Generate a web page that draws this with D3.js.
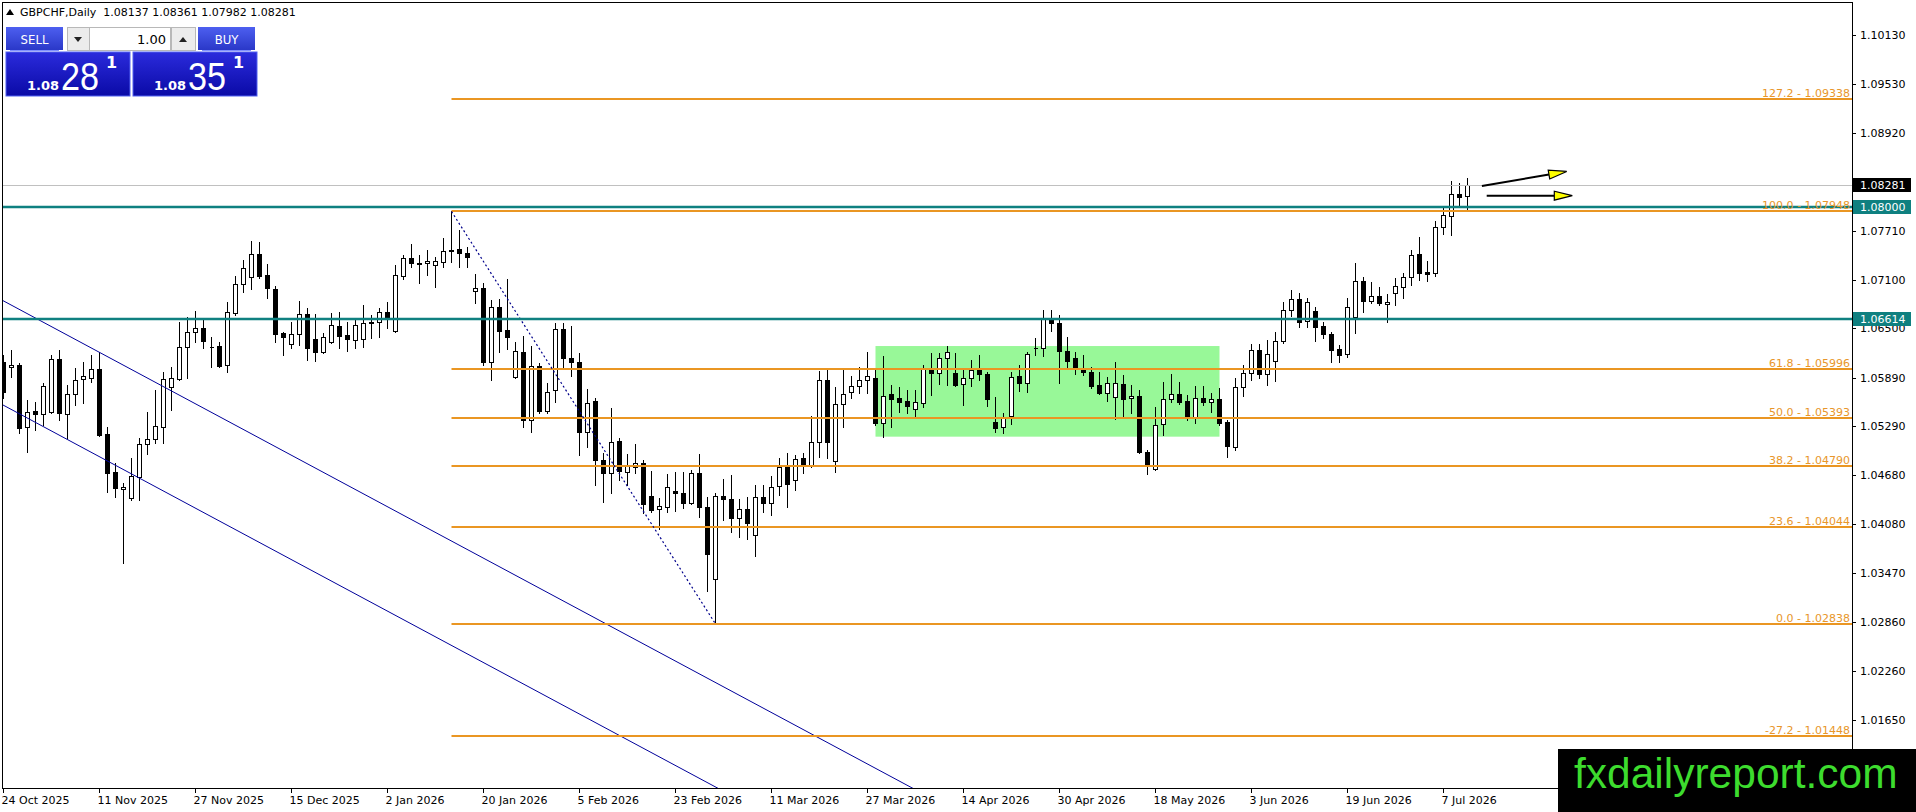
<!DOCTYPE html>
<html>
<head>
<meta charset="utf-8">
<script src="https://cdn.jsdelivr.net/npm/d3@7/dist/d3.min.js"></script>
<style>
  html, body { margin: 0; padding: 0; background: #fff; overflow: hidden; }
  svg { display: block; }
  text { font-family: "DejaVu Sans", sans-serif; }
</style>
</head>
<body>
<div id="container"></div>
<script>
/* CONSTANTS AND GLOBALS */
const width = 1916, height = 812;
const plot = { left: 2, top: 2, right: 1852, bottom: 788 };

/* DATA */
const symbol = "GBPCHF,Daily";
const opens = [1.06083,1.06021,1.06046,1.05278,1.05476,1.05439,1.05464,1.06120,1.05439,1.05687,1.05872,1.05885,1.05996,1.05191,1.04720,1.04509,1.04398,1.04658,1.05067,1.05129,
1.05278,1.05773,1.05872,1.06269,1.06455,1.06504,1.06269,1.06281,1.06046,1.06690,1.07050,1.07136,1.07421,1.07161,1.06988,1.06443,1.06306,1.06430,1.06678,1.06368,
1.06207,1.06331,1.06529,1.06418,1.06356,1.06368,1.06566,1.06579,1.06703,1.06467,1.07149,1.07372,1.07310,1.07310,1.07285,1.07322,1.07471,1.07483,1.07434,1.06963,
1.07000,1.06083,1.06765,1.06480,1.05897,1.06207,1.05364,1.06034,1.05476,1.05736,1.06492,1.06133,1.06083,1.05216,1.05600,1.04869,1.04708,1.05104,1.04720,1.04782,
1.04832,1.04423,1.04262,1.04286,1.04485,1.04460,1.04336,1.04708,1.04286,1.03394,1.04423,1.04385,1.04150,1.04262,1.03939,1.04410,1.04336,1.04547,1.04782,1.04621,
1.04894,1.04794,1.05092,1.05860,1.04856,1.05563,1.05711,1.05786,1.05860,1.05885,1.05327,1.05687,1.05637,1.05600,1.05501,1.05575,1.06009,1.05947,1.06133,1.05947,
1.05811,1.05885,1.05984,1.05934,1.05340,1.05278,1.05414,1.05910,1.05823,1.06257,1.06257,1.06628,1.06566,1.06219,1.06133,1.06009,1.05959,1.05798,1.05699,1.05649,
1.05811,1.05637,1.05662,1.04968,1.04757,1.05315,1.05625,1.05687,1.05600,1.05402,1.05637,1.05587,1.05625,1.05340,1.05030,1.05773,1.05947,1.06232,1.05934,1.06096,
1.06343,1.06728,1.06864,1.06591,1.06715,1.06529,1.06430,1.06244,1.06182,1.06641,1.07087,1.06839,1.06901,1.06802,1.06938,1.07013,1.07136,1.07421,1.07198,1.07186,
1.07756,1.07892,1.08165,1.08137];
const highs = [1.06170,1.06232,1.06071,1.05612,1.05587,1.05823,1.06170,1.06232,1.05798,1.06009,1.06083,1.06170,1.06207,1.05278,1.04832,1.04584,1.04894,1.05141,1.05464,1.05736,
1.05959,1.06021,1.06579,1.06641,1.06715,1.06628,1.06393,1.06331,1.06827,1.07149,1.07347,1.07583,1.07570,1.07298,1.07025,1.06455,1.06579,1.06839,1.06752,1.06678,
1.06443,1.06690,1.06703,1.06579,1.06604,1.06789,1.06666,1.06752,1.06827,1.07285,1.07409,1.07545,1.07409,1.07471,1.07384,1.07620,1.07948,1.07719,1.07508,1.07174,
1.07062,1.06851,1.06864,1.07112,1.06331,1.06405,1.06281,1.06071,1.05823,1.06566,1.06566,1.06529,1.06195,1.05749,1.05637,1.04955,1.05513,1.05141,1.04943,1.05067,
1.04869,1.04732,1.04398,1.04695,1.04720,1.04720,1.04745,1.04943,1.04410,1.04460,1.04633,1.04683,1.04385,1.04410,1.04559,1.04559,1.04670,1.04894,1.04955,1.04931,
1.04955,1.05414,1.05972,1.05984,1.05773,1.05984,1.05910,1.06021,1.06207,1.06009,1.06157,1.05798,1.05773,1.05736,1.05736,1.06046,1.06195,1.06195,1.06281,1.06195,
1.05996,1.06108,1.06170,1.05959,1.05649,1.05451,1.05959,1.06046,1.06207,1.06381,1.06728,1.06728,1.06666,1.06393,1.06207,1.06170,1.06021,1.05959,1.05897,1.06083,
1.05922,1.05798,1.05736,1.04993,1.05526,1.05835,1.05934,1.05835,1.05674,1.05786,1.05786,1.05699,1.05761,1.05364,1.05885,1.06046,1.06306,1.06306,1.06356,1.06455,
1.06827,1.06975,1.06938,1.06876,1.06765,1.06579,1.06455,1.06294,1.06876,1.07310,1.07136,1.07075,1.07013,1.06926,1.07124,1.07186,1.07471,1.07632,1.07335,1.07830,
1.07992,1.08326,1.08301,1.08361];
const lows = [1.05637,1.05897,1.05203,1.04968,1.05240,1.05302,1.05451,1.05364,1.05141,1.05550,1.05575,1.05835,1.05166,1.04472,1.04410,1.03592,1.04373,1.04373,1.04943,1.05079,
1.05079,1.05488,1.05860,1.05885,1.06331,1.06257,1.06021,1.06021,1.05959,1.06666,1.06951,1.06988,1.07124,1.06876,1.06331,1.06170,1.06257,1.06294,1.06108,1.06096,
1.06195,1.06319,1.06257,1.06219,1.06257,1.06269,1.06381,1.06393,1.06504,1.06455,1.07112,1.07260,1.07062,1.07161,1.07013,1.07260,1.07322,1.07260,1.07260,1.06814,
1.06046,1.05860,1.06207,1.06244,1.05885,1.05278,1.05216,1.05451,1.05451,1.05587,1.05996,1.05910,1.04931,1.05030,1.04559,1.04348,1.04460,1.04621,1.04559,1.04708,
1.04212,1.04224,1.04014,1.04224,1.04237,1.04274,1.04323,1.04162,1.03245,1.02838,1.04125,1.03977,1.03915,1.03890,1.03679,1.04224,1.04187,1.04435,1.04286,1.04497,
1.04708,1.04782,1.04906,1.04894,1.04720,1.05278,1.05637,1.05699,1.05699,1.05302,1.05154,1.05278,1.05464,1.05451,1.05402,1.05526,1.05674,1.05811,1.05798,1.05786,
1.05550,1.05786,1.05860,1.05538,1.05216,1.05203,1.05315,1.05724,1.05711,1.06170,1.06157,1.06467,1.05823,1.06009,1.05934,1.05922,1.05761,1.05687,1.05600,1.05377,
1.05389,1.05451,1.04955,1.04695,1.04745,1.05179,1.05587,1.05563,1.05364,1.05327,1.05550,1.05464,1.05302,1.04906,1.04993,1.05662,1.05860,1.05885,1.05798,1.05848,
1.06319,1.06653,1.06517,1.06517,1.06343,1.06381,1.06083,1.06083,1.06145,1.06443,1.06703,1.06814,1.06789,1.06579,1.06789,1.06876,1.07037,1.07099,1.07087,1.07149,
1.07669,1.07657,1.08004,1.07982];
const closes = [1.05711,1.06046,1.05265,1.05464,1.05439,1.05786,1.06120,1.05451,1.05687,1.05860,1.05910,1.05996,1.05179,1.04708,1.04522,1.04534,1.04670,1.05067,1.05129,1.05290,
1.05872,1.05885,1.06269,1.06455,1.06504,1.06343,1.06266,1.06034,1.06703,1.07050,1.07248,1.07421,1.07149,1.07000,1.06430,1.06393,1.06430,1.06678,1.06257,1.06207,
1.06393,1.06542,1.06405,1.06368,1.06542,1.06566,1.06579,1.06703,1.06616,1.07161,1.07372,1.07310,1.07298,1.07335,1.07335,1.07459,1.07459,1.07434,1.07384,1.07000,
1.06083,1.06765,1.06467,1.06393,1.06219,1.05364,1.06034,1.05476,1.05711,1.06492,1.06133,1.06083,1.05216,1.05575,1.04869,1.04708,1.05092,1.04732,1.04794,1.04832,
1.04323,1.04249,1.04299,1.04534,1.04460,1.04336,1.04708,1.04286,1.03704,1.04423,1.04385,1.04150,1.04262,1.04088,1.04410,1.04336,1.04534,1.04782,1.04571,1.04881,
1.04794,1.05092,1.05860,1.05092,1.05563,1.05687,1.05786,1.05860,1.05910,1.05327,1.05662,1.05625,1.05587,1.05538,1.05587,1.06009,1.05947,1.06133,1.06207,1.05798,
1.05885,1.05984,1.05934,1.05625,1.05265,1.05402,1.05897,1.05823,1.06182,1.06254,1.06628,1.06566,1.06219,1.06096,1.06009,1.05959,1.05786,1.05699,1.05823,1.05823,
1.05625,1.05662,1.04968,1.04819,1.05302,1.05625,1.05687,1.05587,1.05389,1.05637,1.05587,1.05625,1.05327,1.05042,1.05773,1.05947,1.06232,1.05934,1.06182,1.06343,
1.06728,1.06864,1.06579,1.06827,1.06517,1.06430,1.06232,1.06170,1.06765,1.07087,1.06839,1.06901,1.06814,1.06827,1.07025,1.07136,1.07409,1.07186,1.07174,1.07756,
1.07905,1.08165,1.08128,1.08281];

const dateLabels = ["24 Oct 2025","11 Nov 2025","27 Nov 2025","15 Dec 2025","2 Jan 2026","20 Jan 2026","5 Feb 2026","23 Feb 2026",
  "11 Mar 2026","27 Mar 2026","14 Apr 2026","30 Apr 2026","18 May 2026","3 Jun 2026","19 Jun 2026","7 Jul 2026"];
const dateLabelBars = [0,12,24,36,48,60,72,84,96,108,120,132,144,156,168,180];
const priceTicks = [1.10130,1.09530,1.08920,1.08310,1.07710,1.07100,1.06500,1.05890,1.05290,1.04680,1.04080,1.03470,1.02860,1.02260,1.01650];

const fibLevels = ["127.2","100.0","61.8","50.0","38.2","23.6","0.0","-27.2"];
const fibPrices = [1.09338,1.07948,1.05996,1.05393,1.04790,1.04044,1.02838,1.01448];
const fibHighBar = 56, fibLowBar = 89;

const levelPrices = [1.08000, 1.06614];
const bidPrice = 1.08281;
const quote = { bid: 1.08281, ask: 1.08351, lot: "1.00" };

const channelUpper = [[0, 1.06840], [100, 1.01527]];
const channelLower = [[0, 1.05547], [100, 1.00233]];

const boxBars = [109, 152];
const boxPrices = [1.06281, 1.05158];

const arrowStarts = [[184.8, 1.08264], [185.4, 1.08144]];
const arrowEnds = [[195.4, 1.08444], [196.1, 1.08144]];

/* SCALES */
const x = d3.scaleLinear().domain([0, 230]).range([3.5, 3.5 + 8 * 230]);
const y = d3.scaleLinear().domain([1.05393, 1.10130]).range([417.7, 35.4]);
const px = v => Math.round(v) + 0.5;

const candles = opens.map((o, i) => ({ i, o, h: highs[i], l: lows[i], c: closes[i] }));

const svg = d3.select("#container")
  .append("svg")
  .attr("width", width)
  .attr("height", height)
  .style("background-color", "#fff");

const defs = svg.append("defs");
defs.append("clipPath").attr("id", "plotClip")
  .append("rect")
  .attr("x", plot.left).attr("y", plot.top)
  .attr("width", plot.right - plot.left).attr("height", plot.bottom - plot.top);

const gBlue = defs.append("linearGradient").attr("id", "btnBlue").attr("x1", 0).attr("y1", 0).attr("x2", 0).attr("y2", 1);
gBlue.append("stop").attr("offset", "0%").attr("stop-color", "#4d5ff0");
gBlue.append("stop").attr("offset", "100%").attr("stop-color", "#2a38c8");
const gDeep = defs.append("linearGradient").attr("id", "boxBlue").attr("x1", 0).attr("y1", 0).attr("x2", 0).attr("y2", 1);
gDeep.append("stop").attr("offset", "0%").attr("stop-color", "#2b2bdc");
gDeep.append("stop").attr("offset", "100%").attr("stop-color", "#0a0aa6");

const chart = svg.append("g").attr("clip-path", "url(#plotClip)");

// green range rectangle (background object)
chart.append("rect")
  .attr("x", x(boxBars[0])).attr("y", y(boxPrices[0]))
  .attr("width", x(boxBars[1]) - x(boxBars[0]))
  .attr("height", y(boxPrices[1]) - y(boxPrices[0]))
  .attr("fill", "#98f898");

// CANDLES
const cg = chart.append("g");
cg.selectAll("line.wick")
  .data(candles)
  .join("line")
  .attr("class", "wick")
  .attr("x1", d => x(d.i)).attr("x2", d => x(d.i))
  .attr("y1", d => Math.round(y(d.h))).attr("y2", d => Math.round(y(d.l)) + 1)
  .attr("stroke", "#000").attr("stroke-width", 1)
  .attr("shape-rendering", "crispEdges");

cg.selectAll("path.body")
  .data(candles)
  .join("path")
  .attr("class", "body")
  .attr("d", d => {
    const x0 = x(d.i) - 2, x1 = x(d.i) + 2;
    const t = px(y(Math.max(d.o, d.c))), b = px(y(Math.min(d.o, d.c)));
    return `M${x0},${t}H${x1}V${b}H${x0}Z`;
  })
  .attr("fill", d => d.c >= d.o ? "#fff" : "#000")
  .attr("stroke", "#000").attr("stroke-width", 1)
  .attr("shape-rendering", "crispEdges");

// channel lines
const extend = (pts) => {
  const [[b0, p0], [b1, p1]] = pts;
  const slope = (p1 - p0) / (b1 - b0);
  return [[-2, p0 + slope * (-2 - b0)], [230, p0 + slope * (230 - b0)]];
};
const lineGen = d3.line().x(d => x(d[0])).y(d => y(d[1]));
[channelUpper, channelLower].forEach(ch => {
  chart.append("path").attr("d", lineGen(extend(ch)))
    .attr("fill", "none").attr("stroke", "#00009a").attr("stroke-width", 1);
});

// fib lines
chart.selectAll("line.fib")
  .data(fibPrices)
  .join("line")
  .attr("class", "fib")
  .attr("x1", x(fibHighBar)).attr("x2", plot.right)
  .attr("y1", d => Math.round(y(d))).attr("y2", d => Math.round(y(d)))
  .attr("stroke", "#ea9623").attr("stroke-width", 2);

// dotted fib connector
chart.append("line")
  .attr("x1", x(fibHighBar)).attr("y1", y(fibPrices[1]))
  .attr("x2", x(fibLowBar)).attr("y2", y(fibPrices[6]))
  .attr("stroke", "#00008b").attr("stroke-width", 1.2).attr("stroke-dasharray", "2,2.5");

// bid line
chart.append("line")
  .attr("x1", plot.left).attr("x2", plot.right)
  .attr("y1", px(y(bidPrice))).attr("y2", px(y(bidPrice)))
  .attr("stroke", "#c0c0c0").attr("stroke-width", 1);

// horizontal teal levels
chart.selectAll("line.level")
  .data(levelPrices)
  .join("line")
  .attr("class", "level")
  .attr("x1", plot.left).attr("x2", plot.right)
  .attr("y1", d => Math.round(y(d))).attr("y2", d => Math.round(y(d)))
  .attr("stroke", "#0f8080").attr("stroke-width", 2.5);

// fib labels
svg.selectAll("text.fibLabel")
  .data(fibPrices)
  .join("text")
  .attr("class", "fibLabel")
  .attr("x", plot.right - 2)
  .attr("y", d => Math.round(y(d)) - 2)
  .attr("text-anchor", "end")
  .attr("font-size", 11)
  .attr("fill", "#e8962a")
  .text((d, i) => `${fibLevels[i]} - ${d.toFixed(5)}`);

// arrows
arrowStarts.forEach((s, k) => {
  const e = arrowEnds[k];
  const sx = x(s[0]), sy = y(s[1]), ex = x(e[0]), ey = y(e[1]);
  const ang = Math.atan2(ey - sy, ex - sx);
  const len = 18, hw = 4.5;
  const bx = ex - len * Math.cos(ang), by = ey - len * Math.sin(ang);
  chart.append("line").attr("x1", sx).attr("y1", sy).attr("x2", bx).attr("y2", by)
    .attr("stroke", "#000").attr("stroke-width", 2);
  const pts = [
    [ex, ey],
    [bx + hw * Math.sin(ang), by - hw * Math.cos(ang)],
    [bx - hw * Math.sin(ang), by + hw * Math.cos(ang)]
  ];
  chart.append("polygon").attr("points", pts.map(p => p.join(",")).join(" "))
    .attr("fill", "#ffff00").attr("stroke", "#000").attr("stroke-width", 1.2);
});

// frame
svg.append("rect")
  .attr("x", plot.left + 0.5).attr("y", plot.top + 0.5)
  .attr("width", plot.right - plot.left).attr("height", plot.bottom - plot.top)
  .attr("fill", "none").attr("stroke", "#000").attr("stroke-width", 1)
  .attr("shape-rendering", "crispEdges");

// price axis
const pa = svg.append("g");
pa.selectAll("line.ptick")
  .data(priceTicks)
  .join("line")
  .attr("class", "ptick")
  .attr("x1", plot.right).attr("x2", plot.right + 4)
  .attr("y1", d => px(y(d))).attr("y2", d => px(y(d)))
  .attr("stroke", "#000");
pa.selectAll("text.plabel")
  .data(priceTicks)
  .join("text")
  .attr("class", "plabel")
  .attr("x", plot.right + 8)
  .attr("y", d => y(d) + 4)
  .attr("font-size", 11)
  .attr("fill", "#000")
  .text(d => d.toFixed(5));

// price boxes on the axis
const tagData = [
  { p: levelPrices[0], fill: "#0f8080" },
  { p: levelPrices[1], fill: "#0f8080" },
  { p: bidPrice, fill: "#000" }
];
tagData.forEach(t => {
  const cy = y(t.p);
  pa.append("rect").attr("x", plot.right + 1).attr("y", Math.round(cy) - 7)
    .attr("width", 58).attr("height", 14).attr("fill", t.fill);
  pa.append("text").attr("x", plot.right + 8).attr("y", cy + 4)
    .attr("font-size", 11).attr("fill", "#fff").text(t.p.toFixed(5));
});

// time axis
const ta = svg.append("g");
ta.selectAll("line.ttick")
  .data(dateLabelBars)
  .join("line")
  .attr("class", "ttick")
  .attr("x1", d => x(d)).attr("x2", d => x(d))
  .attr("y1", plot.bottom).attr("y2", plot.bottom + 5)
  .attr("stroke", "#000");
ta.selectAll("text.tlabel")
  .data(dateLabelBars)
  .join("text")
  .attr("class", "tlabel")
  .attr("x", d => x(d) - 2)
  .attr("y", plot.bottom + 16)
  .attr("font-size", 11)
  .attr("fill", "#000")
  .text((d, i) => dateLabels[i]);

// header line
const hdr = svg.append("g");
hdr.append("path").attr("d", "M6,15L10,9L14,15Z").attr("fill", "#000");
hdr.append("text").attr("x", 20).attr("y", 16).attr("font-size", 11).attr("fill", "#000")
  .attr("xml:space", "preserve")
  .text(`${symbol}  ${opens[183].toFixed(5)} ${highs[183].toFixed(5)} ${lows[183].toFixed(5)} ${closes[183].toFixed(5)}`);

// one-click trading panel
const panel = svg.append("g");
const btn = (x0, w, label) => {
  panel.append("rect").attr("x", x0).attr("y", 27).attr("width", w).attr("height", 23)
    .attr("fill", "url(#btnBlue)");
  panel.append("line").attr("x1", x0 + 4).attr("x2", x0 + w - 4).attr("y1", 50.5).attr("y2", 50.5)
    .attr("stroke", "#8090ff");
  panel.append("text").attr("x", x0 + w / 2).attr("y", 44).attr("text-anchor", "middle")
    .attr("font-size", 13).attr("fill", "#fff")
    .style("font-family", "'DejaVu Sans Condensed', 'DejaVu Sans', sans-serif").text(label);
};
btn(6, 57, "SELL");
btn(198, 57, "BUY");
[[67, 22, "M74,37L82,37L78,42Z"], [171, 24, "M179,42L187,42L183,37Z"]].forEach(([x0, w, tri]) => {
  panel.append("rect").attr("x", x0 + 0.5).attr("y", 27.5).attr("width", w).attr("height", 23)
    .attr("fill", "#ececec").attr("stroke", "#b8b8b8");
  panel.append("path").attr("d", tri).attr("fill", "#222");
});
panel.append("rect").attr("x", 89.5).attr("y", 27.5).attr("width", 81).attr("height", 23)
  .attr("fill", "#fff").attr("stroke", "#b8b8b8");
panel.append("text").attr("x", 166).attr("y", 44).attr("text-anchor", "end")
  .attr("font-size", 13).attr("fill", "#000").text(quote.lot);

const priceBox = (x0, price) => {
  const s = price.toFixed(5);
  panel.append("rect").attr("x", x0).attr("y", 52).attr("width", 124).attr("height", 44)
    .attr("fill", "url(#boxBlue)").attr("stroke", "#5060f0").attr("stroke-width", 1);
  panel.append("text").attr("x", x0 + 21).attr("y", 90).attr("font-size", 13)
    .attr("font-weight", "bold").attr("fill", "#fff").text(s.slice(0, 4));
  panel.append("text").attr("x", x0 + 55).attr("y", 90).attr("font-size", 39)
    .attr("fill", "#fff").style("font-family", "'Liberation Sans', Arial, sans-serif")
    .attr("textLength", 38).attr("lengthAdjust", "spacingAndGlyphs").text(s.slice(4, 6));
  panel.append("text").attr("x", x0 + 100).attr("y", 68).attr("font-size", 16)
    .attr("font-weight", "bold").attr("fill", "#fff").text(s.slice(6));
};
priceBox(6, quote.bid);
priceBox(133, quote.ask);

// watermark
svg.append("rect").attr("x", 1558).attr("y", 749).attr("width", 358).attr("height", 63).attr("fill", "#000");
svg.append("text").attr("x", 1574).attr("y", 788)
  .attr("font-size", 42.5).attr("fill", "#3ddc2e")
  .style("font-family", "'Liberation Sans', Arial, sans-serif")
  .text("fxdailyreport.com");
</script>
</body>
</html>
